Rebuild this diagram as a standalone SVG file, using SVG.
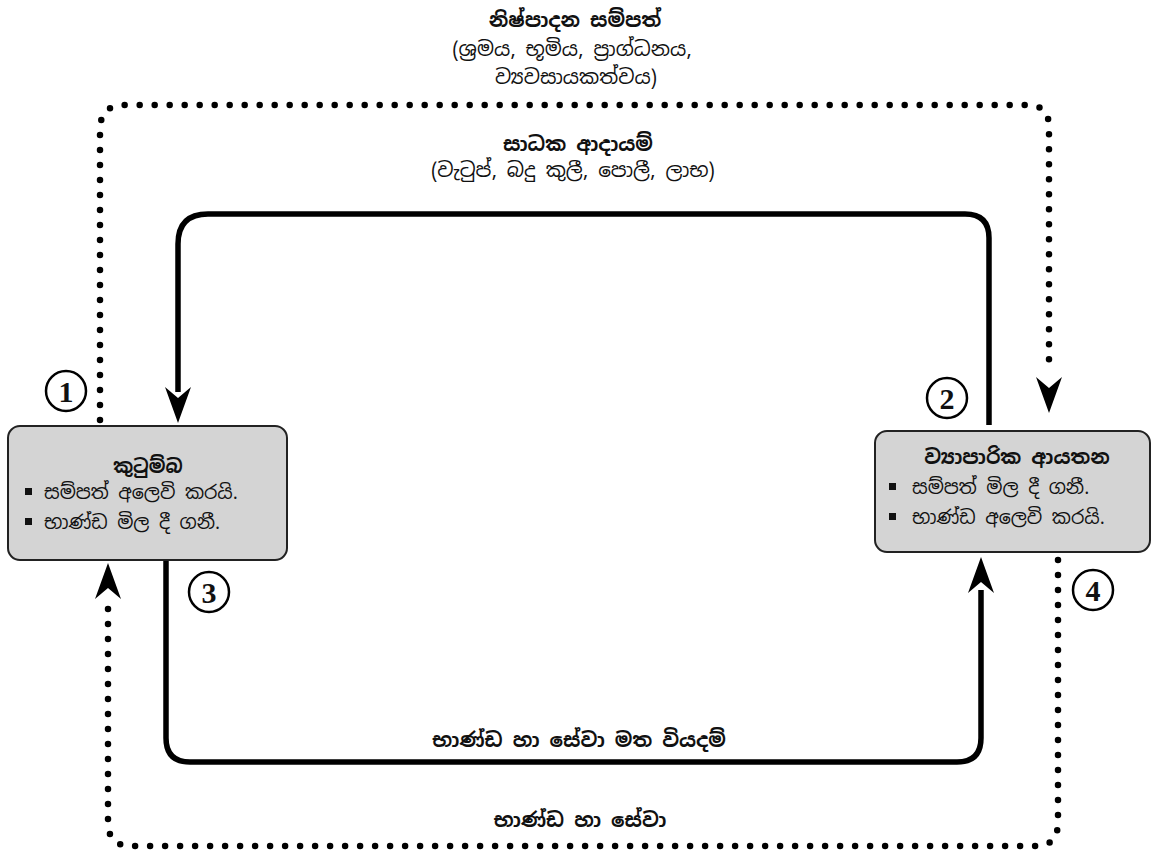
<svg xmlns="http://www.w3.org/2000/svg" width="1153" height="850" viewBox="0 0 1153 850">
<style>
text{font-family:"Noto Sans Sinhala","Noto Serif Sinhala","Iskoola Pota","Noto Sans",sans-serif;fill:#111}
.t{font-size:20px;text-anchor:middle}
.b{font-weight:bold}
.n{font-size:19px}
.box{fill:#d4d4d4;stroke:#222;stroke-width:2}
.solid{fill:none;stroke:#000;stroke-width:5.5;stroke-linejoin:round}
.dot{fill:none;stroke:#000;stroke-width:6.5;stroke-linecap:round;stroke-dasharray:0 15}
.circ{fill:#fff;stroke:#000;stroke-width:2.5}
.num{font-family:"Liberation Serif",serif;font-size:30px;font-weight:bold;text-anchor:middle}
</style>
<defs>
<path id="ah" d="M0 0 L-13 -36 L0 -25 L13 -36 Z" fill="#000"/>
</defs>
<rect width="1153" height="850" fill="#fff"/>
<g id="connectors">
<path class="dot" d="M100 420 V130 Q100 105 125 105 H1027 Q1049 105 1049 127 V372"/>
<use href="#ah" transform="translate(1049 413)"/>
<path class="solid" d="M989 425 V238 Q989 214 965 214 H208 Q178 214 178 244 V392"/>
<use href="#ah" transform="translate(178 423)"/>
<path class="solid" d="M166 560 V738 Q166 762 190 762 H957 Q981 762 981 738 V590"/>
<use href="#ah" transform="translate(981 557) rotate(180)"/>
<path class="dot" d="M1058 560 V822 Q1058 846 1036 846 H131 Q108 846 108 822 V602"/>
<use href="#ah" transform="translate(108 563) rotate(180)"/>
</g>
<g id="labels">
<text class="t b" x="575" y="27">නිෂ්පාදන සම්පත්</text>
<text class="t" x="572" y="56">(ශ්‍රමය, භූමිය, ප්‍රාග්ධනය,</text>
<text class="t" x="576" y="84">ව්‍යවසායකත්වය)</text>
<text class="t b" x="578" y="151">සාධක ආදායම්</text>
<text class="t" x="573" y="177">(වැටුප්, බදු කුලී, පොලී, ලාභ)</text>
<text class="t b" x="579" y="747">භාණ්ඩ හා සේවා මත වියදම්</text>
<text class="t b" x="580" y="827">භාණ්ඩ හා සේවා</text>
</g>
<g id="node-household">
<rect class="box" x="8" y="426" width="279" height="134" rx="12"/>
<text class="t b" x="148" y="473" style="font-size:19px">කුටුම්බ</text>
<rect x="25" y="488" width="7" height="7" fill="#111"/>
<text class="n" x="44" y="499">සම්පත් අලෙවි කරයි.</text>
<rect x="25" y="518" width="7" height="7" fill="#111"/>
<text class="n" x="44" y="529">භාණ්ඩ මිල දී ගනී.</text>
</g>
<g id="node-firms">
<rect class="box" x="875" y="431" width="275" height="121" rx="12"/>
<text class="t b" x="1017" y="464">ව්‍යාපාරික ආයතන</text>
<rect x="889" y="483" width="7" height="7" fill="#111"/>
<text class="n" x="912" y="494">සම්පත් මිල දී ගනී.</text>
<rect x="889" y="513" width="7" height="7" fill="#111"/>
<text class="n" x="912" y="524">භාණ්ඩ අලෙවි කරයි.</text>
</g>
<g id="marker-1"><circle class="circ" cx="66" cy="391" r="20"/><text class="num" x="66" y="402">1</text></g>
<g id="marker-2"><circle class="circ" cx="947" cy="398" r="20"/><text class="num" x="947" y="409">2</text></g>
<g id="marker-3"><circle class="circ" cx="209" cy="592" r="20"/><text class="num" x="209" y="603">3</text></g>
<g id="marker-4"><circle class="circ" cx="1093" cy="590" r="20"/><text class="num" x="1093" y="601">4</text></g>
</svg>
